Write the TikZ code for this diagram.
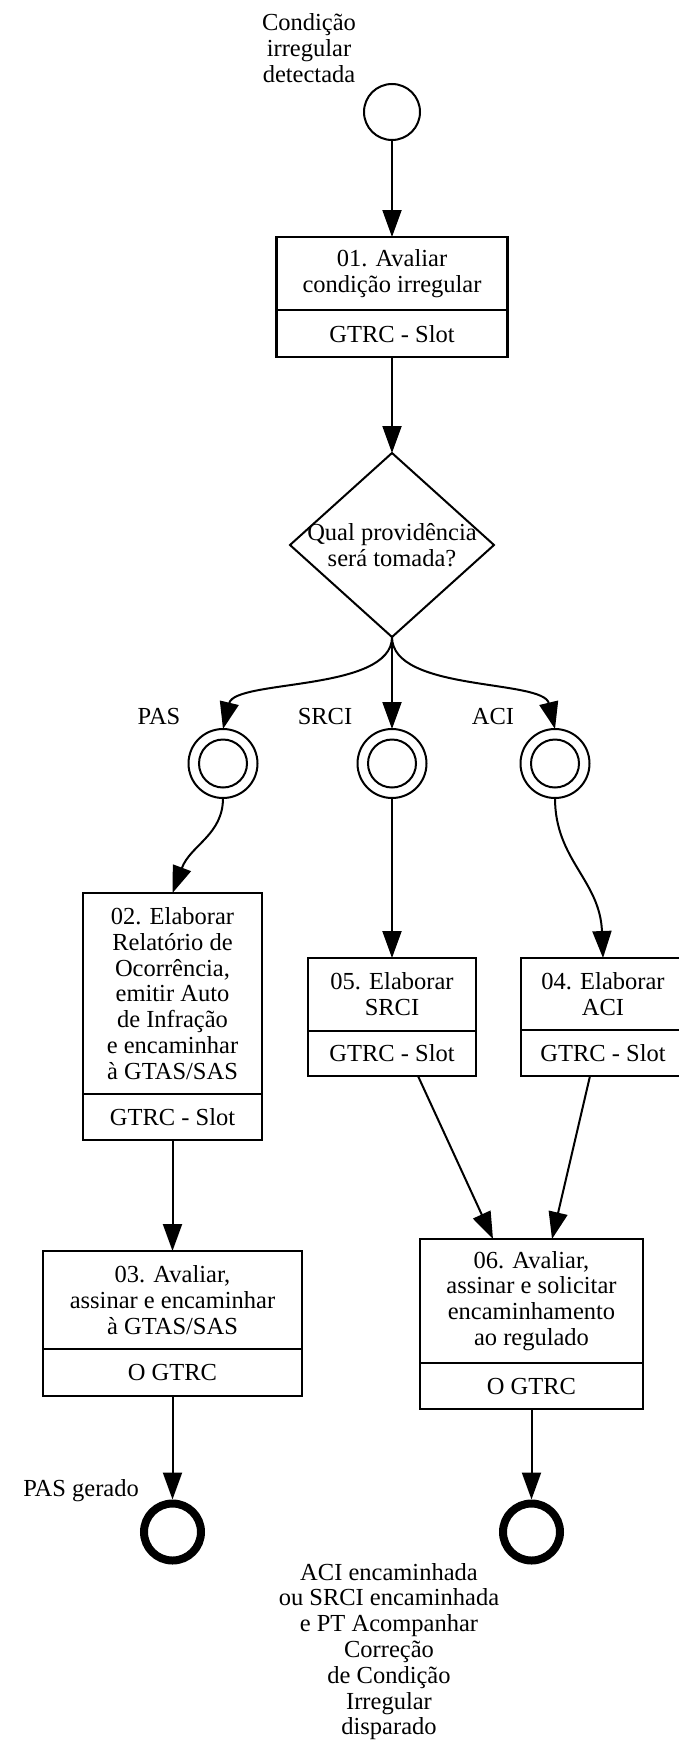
\documentclass[tikz,border=0pt]{standalone}
\usepackage{fontspec}
\setmainfont{Liberation Serif}
\usetikzlibrary{arrows.meta,shapes.geometric,calc}
\begin{document}
\begin{tikzpicture}[x=1pt,y=-1pt,
  every node/.style={font=\fontsize{24.5}{25.8}\selectfont},
  box/.style={draw,line width=2.4pt,rectangle,inner sep=0pt,outer sep=0pt},
  txt/.style={inner sep=0pt,align=center},
  divline/.style={line width=2.4pt},
  startev/.style={draw,circle,line width=2pt,minimum size=56pt,inner sep=0pt,outer sep=0pt},
  midev/.style={draw,circle,line width=2pt,minimum size=69pt,inner sep=0pt,outer sep=0pt},
  endev/.style={draw,circle,line width=8pt,minimum size=57pt,inner sep=0pt,outer sep=4pt},
  flow/.style={line width=2pt,-{Triangle[length=27pt,width=19pt]}}
]
\useasboundingbox (0,0) rectangle (678,1742);

% start event
\node[startev] (s) at (392,112) {};
\node[txt] (ls) at (309,48) {Condição\\irregular\\detectada};

% box 01
\node[box,minimum width=231pt,minimum height=120pt] (b1) at (392,297) {};
\draw[divline] (276.5,310) -- (507.5,310);
\node[txt] (t1) at (392,274) {01. Avaliar\\condição irregular};
\node[txt] (r1) at (392,334) {GTRC - Slot};

% decision
\node[draw,diamond,line width=2pt,minimum width=204pt,minimum height=184pt,inner sep=0pt,outer sep=0pt] (d) at (392,545) {};
\node[txt] (td) at (392,545) {Qual providência\\será tomada?};

% intermediate events
\node[midev] (c1) at (223,763.5) {};
\draw[line width=2pt] (c1.center) circle[radius=24];
\node[midev] (c2) at (392,763.5) {};
\draw[line width=2pt] (c2.center) circle[radius=24];
\node[midev] (c3) at (555,763.5) {};
\draw[line width=2pt] (c3.center) circle[radius=24];
\node[txt] (lpas) at (159,717) {PAS};
\node[txt] (lsrci) at (325,717) {SRCI};
\node[txt] (laci) at (493,717) {ACI};

% box 02
\node[box,minimum width=179pt,minimum height=247pt] (b2) at (172.5,1016.5) {};
\draw[divline] (83,1094) -- (262,1094);
\node[txt] (t2) at (172.5,993.5) {02. Elaborar\\Relatório de\\Ocorrência,\\emitir Auto\\de Infração\\e encaminhar\\à GTAS/SAS};
\node[txt] (r2) at (172.5,1117.5) {GTRC - Slot};

% box 05
\node[box,minimum width=168pt,minimum height=118pt] (b5) at (392,1017) {};
\draw[divline] (308,1031) -- (476,1031);
\node[txt] (t5) at (392,994.5) {05. Elaborar\\SRCI};
\node[txt] (r5) at (392,1053.5) {GTRC - Slot};

% box 04
\node[box,minimum width=164pt,minimum height=118pt] (b4) at (603,1017) {};
\draw[divline] (521,1030) -- (685,1030);
\node[txt] (t4) at (603,994.5) {04. Elaborar\\ACI};
\node[txt] (r4) at (603,1053.5) {GTRC - Slot};

% box 03
\node[box,minimum width=259pt,minimum height=145pt] (b3) at (172.5,1323.5) {};
\draw[divline] (43,1349) -- (302,1349);
\node[txt] (t3) at (172.5,1300) {03. Avaliar,\\assinar e encaminhar\\à GTAS/SAS};
\node[txt] (r3) at (172.5,1372.5) {O GTRC};

% box 06
\node[box,minimum width=223pt,minimum height=170pt] (b6) at (531.5,1324) {};
\draw[divline] (420,1363) -- (643,1363);
\node[txt] (t6) at (531.5,1301) {06. Avaliar,\\assinar e solicitar\\encaminhamento\\ao regulado};
\node[txt] (r6) at (531.5,1386) {O GTRC};

% end events
\node[endev] (e1) at (172.5,1532) {};
\node[endev] (e2) at (531.5,1532) {};
\node[txt,anchor=east] (lpg) at (139,1491) {PAS gerado};
\node[txt] (le) at (389,1651.5) {ACI encaminhada\\ou SRCI encaminhada\\e PT Acompanhar\\Correção\\de Condição\\Irregular\\disparado};

% connectors
\draw[flow] (s.south) -- (b1.north);
\draw[flow] (b1.south) -- (d.north);
\draw[flow] (d.south) .. controls ($(d.south)+(0,55)$) and ($(c1.north)+(12,-50)$) .. (c1.north);
\draw[flow] (d.south) -- (c2.north);
\draw[flow] (d.south) .. controls ($(d.south)+(0,55)$) and ($(c3.north)+(-12,-50)$) .. (c3.north);
\draw[flow] (c1.south) .. controls ($(c1.south)+(0,37)$) and ($(b2.north)+(18,-48)$) .. (b2.north);
\draw[flow] (c2.south) -- (b5.north);
\draw[flow] (c3.south) .. controls ($(c3.south)+(0,62)$) and ($(b4.north)+(-3,-78)$) .. (b4.north);
\draw[flow] (b2.south) -- (b3.north);
\draw[flow] ([xshift=26pt]b5.south) -- ([xshift=-38.5pt]b6.north);
\draw[flow] ([xshift=-13pt]b4.south) -- ([xshift=20.5pt]b6.north);
\draw[flow] (b3.south) -- (e1.north);
\draw[flow] (b6.south) -- (e2.north);
\end{tikzpicture}
\end{document}
